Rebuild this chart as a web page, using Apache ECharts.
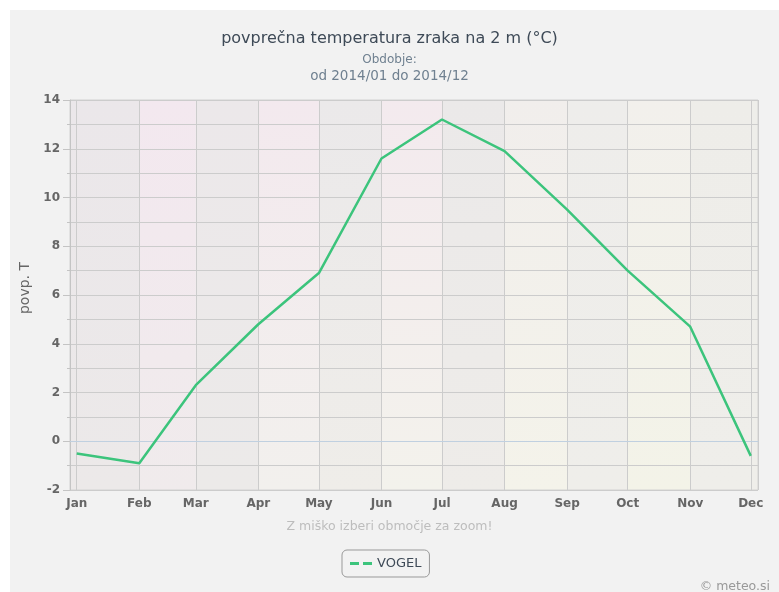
<!DOCTYPE html>
<html lang="sl">

<head>
    <meta charset="UTF-8">
    <script src="https://cdn.jsdelivr.net/npm/echarts@6/dist/echarts.min.js"></script>
    <title>povprečna temperatura</title>
    <style>
        body { margin: 0; background: #fff; }
    </style>
</head>

<body>
    <div id="main" style="width: 779px;height: 592px;"></div>

    <script>
        // podatki
        var months = ['2014-01-01', '2014-02-01', '2014-03-01', '2014-04-01', '2014-05-01', '2014-06-01',
            '2014-07-01', '2014-08-01', '2014-09-01', '2014-10-01', '2014-11-01', '2014-12-01'];
        var monthLabels = ['Jan', 'Feb', 'Mar', 'Apr', 'May', 'Jun', 'Jul', 'Aug', 'Sep', 'Oct', 'Nov', 'Dec'];
        var vogel = [-0.5, -0.9, 2.3, 4.8, 6.9, 11.6, 13.2, 11.9, 9.5, 7.0, 4.7, -0.6];

        var xMin = '2013-12-28 16:00';
        var xMax = '2014-12-04 14:00';

        // barve pasov v ozadju (zgoraj / spodaj)
        var bandTop = ['#ebe7ea', '#f3e8ef', '#ece8ea', '#f3e9ee', '#ebe9ea', '#f3eaee',
            '#ebe9e9', '#f1eeec', '#eeedeb', '#f2f0ec', '#eeede9', '#eeeeea'];
        var bandBottom = ['#ece9e9', '#f0ebec', '#eceae9', '#f2f0ed', '#efede9', '#f3f2ec',
            '#eeece9', '#f4f3ea', '#efeeea', '#f3f3e8', '#efeeea', '#efeeea'];

        var bands = months.map(function (m, i) {
            return [{
                xAxis: i === 0 ? xMin : m,
                itemStyle: {
                    color: new echarts.graphic.LinearGradient(0, 0, 0, 1, [
                        { offset: 0, color: bandTop[i] },
                        { offset: 1, color: bandBottom[i] }
                    ])
                }
            }, {
                xAxis: i === months.length - 1 ? xMax : months[i + 1]
            }];
        });

        var chartDom = document.getElementById('main');
        var myChart = echarts.init(chartDom);
        var option = {
            backgroundColor: '#f2f2f2',
            animation: false,
            textStyle: { fontFamily: 'DejaVu Sans' },
            title: [{
                text: 'povprečna temperatura zraka na 2 m (°C)',
                left: 'center',
                top: 26,
                textStyle: { fontSize: 16, fontWeight: 'normal', color: '#3e4a57' }
            }, {
                text: 'Obdobje:',
                left: 'center',
                top: 49,
                textStyle: { fontSize: 12, fontWeight: 'normal', color: '#6f8090' }
            }, {
                text: 'od 2014/01 do 2014/12',
                left: 'center',
                top: 64,
                textStyle: { fontSize: 13.5, fontWeight: 'normal', color: '#6f8090' }
            }, {
                text: 'Z miško izberi območje za zoom!',
                left: 'center',
                top: 515,
                textStyle: { fontSize: 12.5, fontWeight: 'normal', color: '#bdbdbd' }
            }, {
                text: '© meteo.si',
                right: 4,
                top: 575,
                textStyle: { fontSize: 12.5, fontWeight: 'normal', color: '#999' }
            }],
            graphic: [
                { type: 'rect', left: 0, top: 0, shape: { width: 779, height: 10 }, style: { fill: '#fff' } },
                { type: 'rect', left: 0, top: 0, shape: { width: 10, height: 592 }, style: { fill: '#fff' } }
            ],
            legend: {
                left: 342,
                top: 550,
                padding: [7, 8, 7, 8],
                borderColor: '#999',
                borderWidth: 1,
                borderRadius: 5,
                itemWidth: 22,
                itemHeight: 3,
                itemGap: 5,
                icon: 'path://M0,0h9v3h-9z M13,0h9v3h-9z',
                textStyle: { fontSize: 13, color: '#3e4a57' },
                data: ['VOGEL']
            },
            grid: {
                left: 70,
                right: 21,
                top: 100,
                bottom: 102,
                show: true,
                borderColor: '#d2d2d2',
                backgroundColor: 'transparent'
            },
            xAxis: {
                type: 'time',
                min: xMin,
                max: xMax,
                splitNumber: 12,
                axisLine: { lineStyle: { color: '#c0d0e0' } },
                axisTick: { show: false },
                axisLabel: {
                    color: '#666',
                    fontWeight: 'bold',
                    fontSize: 12,
                    margin: 8,
                    formatter: function (v) {
                        return monthLabels[new Date(v).getMonth()];
                    }
                },
                splitLine: { show: true, lineStyle: { color: '#cccccc' } }
            },
            yAxis: {
                type: 'value',
                min: -2,
                max: 14,
                interval: 2,
                name: 'povp. T',
                nameLocation: 'middle',
                nameGap: 33,
                nameRotate: 90,
                nameTextStyle: { color: '#666', fontSize: 14, padding: [0, 0, 0, 14] },
                axisLine: { show: true, lineStyle: { color: '#c4c4c4' } },
                axisTick: { show: true, length: 7, lineStyle: { color: '#c4c4c4' } },
                minorTick: { show: true, splitNumber: 2, length: 3, lineStyle: { color: '#c4c4c4' } },
                axisLabel: { color: '#666', fontWeight: 'bold', fontSize: 12, margin: 10 },
                splitLine: { lineStyle: { color: '#cccccc' } },
                minorSplitLine: { show: true, lineStyle: { color: '#cccccc' } }
            },
            series: [{
                name: 'VOGEL',
                type: 'line',
                showSymbol: false,
                symbol: 'none',
                color: '#3cc47c',
                lineStyle: { width: 2.5, color: '#3cc47c' },
                data: months.map(function (m, i) { return [m, vogel[i]]; }),
                markArea: {
                    silent: true,
                    z: -1,
                    data: bands
                }
            }]
        };
        myChart.setOption(option);
    </script>
</body>

</html>
